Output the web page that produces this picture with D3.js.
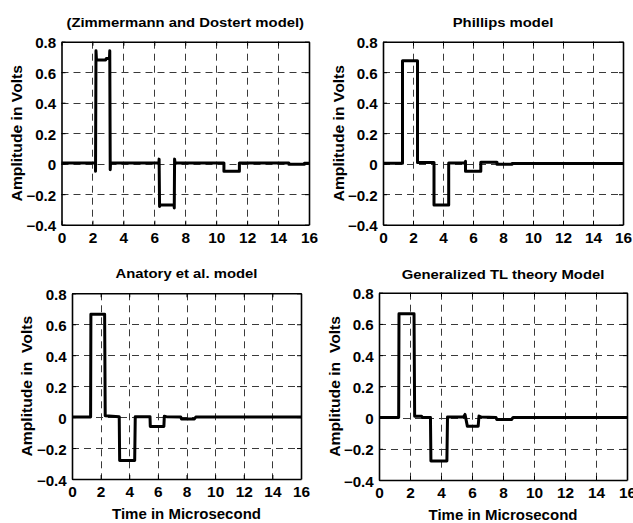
<!DOCTYPE html>
<html><head><meta charset="utf-8">
<script src="https://cdn.jsdelivr.net/npm/d3@7"></script>
<style>
html,body{margin:0;padding:0;background:#fff;}
svg{display:block;}
text{font-family:"Liberation Sans",Arial,Helvetica,sans-serif;font-weight:bold;fill:#000;}
</style></head>
<body>
<script>
// ---- data (time in microseconds, amplitude in volts) ----
const xTicks = [0, 2, 4, 6, 8, 10, 12, 14, 16];
const yTicks = [-0.4, -0.2, 0, 0.2, 0.4, 0.6, 0.8];
const titles = ["(Zimmermann and Dostert model)", "Phillips model", "Anatory et al. model", "Generalized TL theory Model"];
const yLabels = ["Amplitude in Volts", "Amplitude in Volts", "Amplitude in  Volts", "Amplitude in  Volts"];
const xLabel = "Time in Microsecond";

const zimmermannT = [0, 2.2, 2.2, 2.23, 2.26, 2.85, 2.9, 3.1, 3.12, 3.15, 3.17, 6.3, 6.31, 6.34, 6.38, 7.28, 7.29, 7.31, 7.34, 10.5, 10.5, 11.5, 11.5, 14.7, 14.7, 15.7, 15.7, 16];
const zimmermannV = [0.005, 0.005, -0.05, 0.74, 0.68, 0.68, 0.69, 0.69, 0.74, -0.04, 0.005, 0.005, 0.03, -0.28, -0.27, -0.27, -0.29, 0.03, 0.005, 0.005, -0.05, -0.05, 0.005, 0.005, -0.003, -0.003, 0.003, 0.003];

const phillipsT = [0, 1.3, 1.3, 2.3, 2.3, 3.4, 3.4, 4.38, 4.38, 5.45, 5.5, 5.5, 6.52, 6.52, 7.6, 7.6, 8.6, 8.6, 16];
const phillipsV = [0.003, 0.003, 0.675, 0.675, 0.008, 0.008, -0.27, -0.27, 0.005, 0.005, 0.015, -0.05, -0.05, 0.01, 0.01, -0.004, -0.004, 0.002, 0.002];

const anatoryT = [0, 1.3, 1.32, 2.28, 2.32, 3.3, 3.33, 4.38, 4.42, 5.45, 5.47, 6.42, 6.45, 6.6, 7.6, 7.65, 8.55, 8.65, 16];
const anatoryV = [0.0, 0.0, 0.665, 0.665, 0.008, 0.003, -0.28, -0.28, 0.003, 0.003, -0.06, -0.06, 0.005, 0.003, 0.0, -0.012, -0.012, 0.0, 0.0];

const generalizedT = [0, 1.27, 1.29, 2.26, 2.3, 2.75, 2.8, 3.32, 3.35, 4.38, 4.42, 5.45, 5.55, 5.7, 6.4, 6.45, 6.6, 7.55, 7.6, 8.55, 8.65, 16];
const generalizedV = [0.0, 0.0, 0.665, 0.665, 0.008, 0.008, 0.0, 0.0, -0.278, -0.278, 0.004, 0.004, 0.02, -0.055, -0.055, 0.01, 0.003, 0.0, -0.012, -0.012, 0.0, 0.0];

const seriesT = [zimmermannT, phillipsT, anatoryT, generalizedT];
const seriesV = [zimmermannV, phillipsV, anatoryV, generalizedV];

// ---- layout ----
const W = 633, H = 523;
const panels = [
  {x0: 61.5, x1: 309, y0: 41.7, y1: 224.7, titleY: 27, yLabX: 22, xLab: false},
  {x0: 383, x1: 623, y0: 41.7, y1: 224.7, titleY: 27, yLabX: 343.5, xLab: false},
  {x0: 72, x1: 301, y0: 293.3, y1: 479, titleY: 278, yLabX: 32, xLab: true},
  {x0: 379, x1: 627, y0: 292.7, y1: 480, titleY: 279, yLabX: 340, xLab: true}
];

const svg = d3.select("body").append("svg").attr("width", W).attr("height", H);
const fmt = d => (d === 0 ? "0" : d3.format(".1f")(d));

panels.forEach((p, i) => {
  const x = d3.scaleLinear().domain([0, 16]).range([p.x0, p.x1]);
  const y = d3.scaleLinear().domain([-0.4, 0.8]).range([p.y1, p.y0]);
  const g = svg.append("g");

  // grid
  const grid = g.append("g").attr("stroke", "#3a3a3a").attr("stroke-width", 1).attr("stroke-dasharray", "7,5");
  grid.selectAll(".gx").data(xTicks.slice(1, -1)).join("line")
    .attr("x1", d => Math.round(x(d)) + 0.5).attr("x2", d => Math.round(x(d)) + 0.5)
    .attr("y1", p.y0).attr("y2", p.y1);
  grid.selectAll(".gy").data(yTicks.slice(1, -1)).join("line")
    .attr("y1", d => Math.round(y(d)) + 0.5).attr("y2", d => Math.round(y(d)) + 0.5)
    .attr("x1", p.x0).attr("x2", p.x1);

  // axes
  const axB = g.append("g").attr("transform", `translate(0,${p.y1})`)
    .call(d3.axisBottom(x).tickValues(xTicks).tickSize(-4).tickSizeOuter(0).tickPadding(6).tickFormat(d3.format("d")));
  const axT = g.append("g").attr("transform", `translate(0,${p.y0})`)
    .call(d3.axisTop(x).tickValues(xTicks).tickSize(-4).tickSizeOuter(0).tickFormat(""));
  const axL = g.append("g").attr("transform", `translate(${p.x0},0)`)
    .call(d3.axisLeft(y).tickValues(yTicks).tickSize(-4).tickSizeOuter(0).tickPadding(4).tickFormat(fmt));
  const axR = g.append("g").attr("transform", `translate(${p.x1},0)`)
    .call(d3.axisRight(y).tickValues(yTicks).tickSize(-4).tickSizeOuter(0).tickFormat(""));
  [axB, axT, axL, axR].forEach(a => {
    a.selectAll("path").attr("stroke", "#000").attr("stroke-width", 1.6);
    a.selectAll("line").attr("stroke", "#000").attr("stroke-width", 1);
    a.selectAll("text").style("font-size", "14px").style("font-family", null).style("font-weight", "bold").attr("fill", "#000");
  });
  axB.selectAll("text").attr("dy", null).attr("y", 18).attr("transform", "scale(1.1,1)");
  axL.selectAll("text").attr("dy", "0.36em").attr("transform", "translate(-1,1) scale(1.08,1)");

  // data line
  const pts = seriesT[i].map((t, k) => [t, seriesV[i][k]]);
  g.append("path").datum(pts)
    .attr("fill", "none").attr("stroke", "#000").attr("stroke-width", 3).attr("stroke-linejoin", "round")
    .attr("d", d3.line().x(d => x(d[0])).y(d => y(d[1])));

  // title
  const cx = (p.x0 + p.x1) / 2;
  svg.append("text").attr("transform", `translate(${cx},${p.titleY}) scale(1.1,1)`)
    .attr("text-anchor", "middle").style("font-size", "13.5px").text(titles[i]);

  // y label
  const cy = (p.y0 + p.y1) / 2;
  svg.append("text").attr("transform", `translate(${p.yLabX},${cy}) rotate(-90) scale(1.12,1)`)
    .attr("text-anchor", "middle").style("font-size", "14px").style("white-space", "pre").text(yLabels[i]);

  // x label
  if (p.xLab) {
    svg.append("text").attr("transform", `translate(${cx},${p.y1 + 40})`)
      .attr("text-anchor", "middle").style("font-size", "15px").text(xLabel);
  }
});
</script>
</body></html>
